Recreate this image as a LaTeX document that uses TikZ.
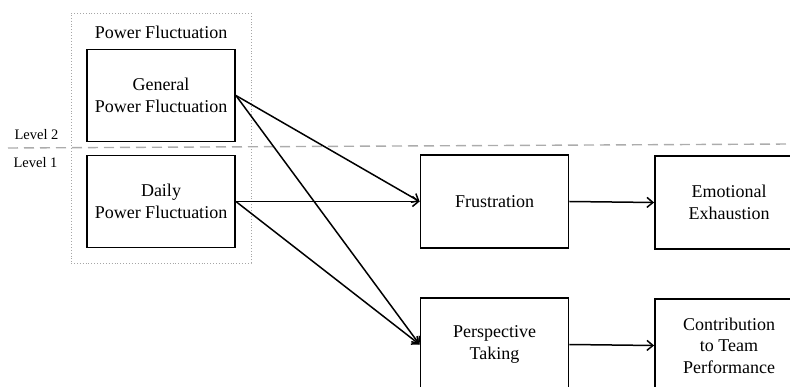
\documentclass[tikz,border=0pt]{standalone}
\usepackage{fontspec}
\setmainfont{Liberation Serif}
\usetikzlibrary{arrows.meta}
\begin{document}
\begin{tikzpicture}[x=1pt,y=-1pt,
  box/.style={draw,line width=1.8pt,minimum width=148pt,minimum height=92pt,
    align=center,inner sep=0pt,font=\fontsize{18}{21.5}\selectfont},
  link/.style={line width=1.5pt,-{Straight Barb[length=6pt,width=10pt]}},
  lvl/.style={anchor=base,inner sep=0pt,font=\fontsize{14.5}{16}\selectfont}]
\useasboundingbox (0,0) rectangle (790,387);
% level 2 / level 1 divider
\coordinate (lvlL) at (8,148);
\coordinate (lvlR) at (790,144);
\draw[gray!65,line width=1.4pt,dash pattern=on 10pt off 6pt] (lvlL)--(lvlR);
\node[lvl] (lvl2) at (36.5,139.5) {Level 2};
\node[lvl] (lvl1) at (35.5,168) {Level 1};
% power fluctuation group
\node[draw=gray!70,dotted,line width=0.9pt,minimum width=180pt,minimum height=250pt] (group) at (161,138) {};
\node[anchor=base,inner sep=0pt,font=\fontsize{18}{21.5}\selectfont] (grouplabel) at (161,38.5) {Power Fluctuation};
\node[box] (general) at (161,95.5) {General\\Power Fluctuation};
\node[box] (daily) at (161,201.5) {Daily\\Power Fluctuation};
% mediators and outcomes
\node[box,minimum height=93pt] (frustr) at (494.5,201.5) {Frustration};
\node[box,minimum height=93pt] (exhaust) at (729,202.5) {Emotional\\Exhaustion};
\node[box,minimum height=93pt] (persp) at (494.5,344.5) {Perspective\\Taking};
\node[box,minimum height=93pt] (contrib) at (729,345.5) {Contribution\\to Team\\Performance};
% paths
\draw[link] (general.east)--(frustr.west);
\draw[link] (general.east)--(persp.west);
\draw[link] (daily.east)--(frustr.west);
\draw[link] (daily.east)--(persp.west);
\draw[link] (frustr.east)--(exhaust.west);
\draw[link] (persp.east)--(contrib.west);
\end{tikzpicture}
\end{document}
